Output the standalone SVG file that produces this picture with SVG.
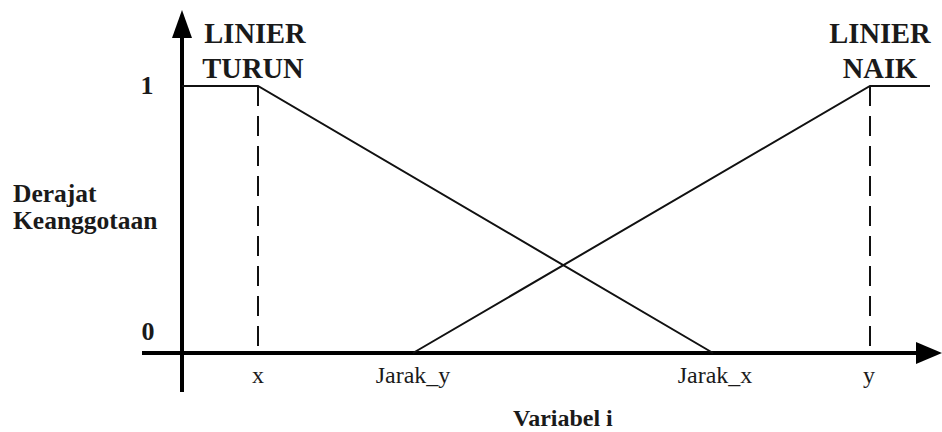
<svg xmlns="http://www.w3.org/2000/svg" width="942" height="432" viewBox="0 0 942 432">
<style>
.lbl{font-family:"Liberation Serif","Times New Roman",serif;fill:#1a1a1a}
.b{font-weight:bold}
.ln{stroke:#111;stroke-width:2;fill:none}
.ax{stroke:#000;stroke-width:4;fill:none}
.ds{stroke:#111;stroke-width:2;fill:none;stroke-dasharray:20 10}
</style>
<rect width="942" height="432" fill="#fff"/>
<g id="axes">
<line class="ax" x1="182" y1="392" x2="182" y2="34"/>
<polygon points="182,10 172,38 192,38" fill="#000"/>
<line class="ax" x1="142" y1="353" x2="920" y2="353"/>
<polygon points="942,353 916,342 916,364" fill="#000"/>
</g>
<g id="connectors">
<polyline class="ln" points="182,86 258,86 713,353"/>
<polyline class="ln" points="413,353 870,86 930,86"/>
<line class="ds" x1="258" y1="86" x2="258" y2="353"/>
<line class="ds" x1="870" y1="86" x2="870" y2="353"/>
</g>
<g id="labels">
<text class="lbl b" x="255" y="43" font-size="28.5" text-anchor="middle">LINIER</text>
<text class="lbl b" x="253" y="78" font-size="28.5" text-anchor="middle">TURUN</text>
<text class="lbl b" x="880" y="43" font-size="28.5" text-anchor="middle">LINIER</text>
<text class="lbl b" x="880" y="78" font-size="28.5" text-anchor="middle">NAIK</text>
<text class="lbl b" x="147" y="94" font-size="26" text-anchor="middle">1</text>
<text class="lbl b" x="148" y="340" font-size="26" text-anchor="middle">0</text>
<text class="lbl b" x="13" y="202" font-size="25.5">Derajat</text>
<text class="lbl b" x="13" y="229" font-size="25.5">Keanggotaan</text>
<text class="lbl" x="258" y="383" font-size="24" text-anchor="middle">x</text>
<text class="lbl" x="413" y="383" font-size="24" text-anchor="middle">Jarak_y</text>
<text class="lbl" x="715" y="383" font-size="24" text-anchor="middle">Jarak_x</text>
<text class="lbl" x="869" y="383" font-size="24" text-anchor="middle">y</text>
<text class="lbl b" x="513" y="426" font-size="24">Variabel i</text>
</g>
</svg>
